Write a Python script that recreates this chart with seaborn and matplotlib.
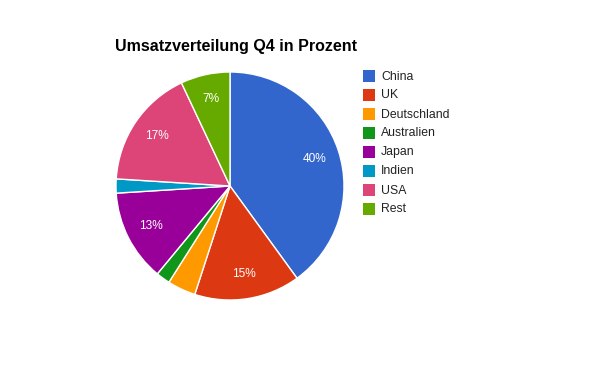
import matplotlib
matplotlib.use("Agg")
import matplotlib.pyplot as plt
import seaborn as sns
from matplotlib.patches import Rectangle

sns.set_theme(style="white")
plt.rcParams['font.family'] = ['Liberation Sans', 'DejaVu Sans']

title = "Umsatzverteilung Q4 in Prozent"
categories = ["China", "UK", "Deutschland", "Australien", "Japan", "Indien", "USA", "Rest"]
values = [40, 15, 4, 2, 13, 2, 17, 7]
colors = ["#3366cc", "#dc3912", "#ff9900", "#109618", "#990099", "#0099c6", "#dd4477", "#66aa00"]

W, H = 600, 371
fig = plt.figure(figsize=(W / 100, H / 100), dpi=100)
fig.patch.set_facecolor("white")

cx, cy, r = 230, 186, 114
ax = fig.add_axes([(cx - r) / W, (H - cy - r) / H, 2 * r / W, 2 * r / H])

def fmt(p):
    return f"{p:.0f}%" if p >= 5 else ""

wedges, texts, autotexts = ax.pie(
    values, colors=colors, startangle=90, counterclock=False,
    autopct=fmt, pctdistance=0.78, radius=1,
    wedgeprops=dict(edgecolor="white", linewidth=1),
    textprops=dict(color="white", fontsize=8.6),
)
ax.set_xlim(-1, 1)
ax.set_ylim(-1, 1)
ax.set_aspect("auto")
ax.axis("off")

fig.text(115 / W, 1 - 46 / H, title, fontsize=11.5, fontweight="bold",
         color="black", ha="left", va="center")

x0, y0, step, sq = 363, 76, 19, 12
for i, (c, col) in enumerate(zip(categories, colors)):
    yc = y0 + i * step
    fig.patches.append(Rectangle((x0 / W, 1 - (yc + sq / 2) / H), sq / W, sq / H,
                                 transform=fig.transFigure, facecolor=col,
                                 edgecolor="none", figure=fig))
    fig.text((x0 + 18) / W, 1 - (yc + 0.5) / H, c, fontsize=8.8, color="#222222",
             ha="left", va="center")

fig.savefig("out.png", dpi=100)
